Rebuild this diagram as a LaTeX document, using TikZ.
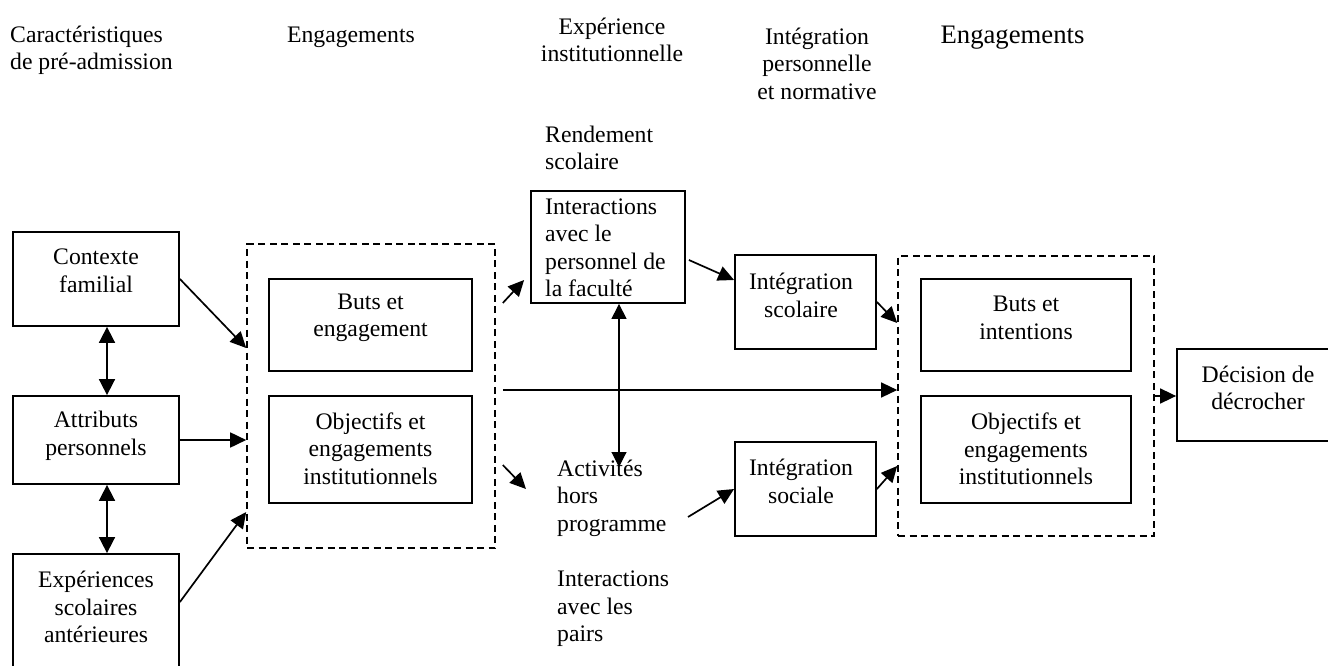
\documentclass[tikz,border=0pt]{standalone}
\usepackage{fontspec}
\setmainfont{Liberation Serif}
\usetikzlibrary{arrows.meta}
\begin{document}
\begin{tikzpicture}[x=1pt,y=-1pt,
  box/.style={draw, line width=1.8pt, inner sep=0pt},
  dashbox/.style={draw, line width=1.6pt, inner sep=0pt, dash pattern=on 7pt off 4.5pt},
  txt/.style={font=\fontsize{23.7}{27.5}\selectfont, align=center, inner sep=0pt},
  ltxt/.style={txt, align=left, anchor=west},
  arr/.style={-{Triangle[length=16pt,width=15pt]}, line width=1.7pt},
  dbl/.style={{Triangle[length=16pt,width=16pt]}-{Triangle[length=16pt,width=16pt]}, line width=1.7pt}
]
\useasboundingbox (0,0) rectangle (1328,666);
\clip (0,0) rectangle (1328,666);

% headers
\node[ltxt] (h1) at (10,50.5) {Caractéristiques\\de pré-admission};
\node[txt] (h2) at (351,37) {Engagements};
\node[txt] (h3) at (612,40) {Expérience\\institutionnelle};
\node[txt] (h4) at (817,63.5) {Intégration\\personnelle\\et normative};
\node[txt, font=\fontsize{26.7}{30}\selectfont] (h5) at (1012.5,38) {Engagements};

% left column boxes
\node[box, minimum width=166pt, minimum height=94pt] (cf) at (96,279) {};
\node[box, minimum width=166pt, minimum height=88pt] (ap) at (96,440) {};
\node[box, minimum width=166pt, minimum height=136pt] (ex) at (96,622) {};
\node[txt] (cft) at (96,271) {Contexte\\familial};
\node[txt] (apt) at (96,436) {Attributs\\personnels};
\node[txt] (ext) at (96,607) {Expériences\\scolaires\\antérieures};

% first dashed group
\node[dashbox, minimum width=248pt, minimum height=304pt] (d1) at (371,396) {};
\node[box, minimum width=203pt, minimum height=92pt] (be) at (370.5,325) {};
\node[box, minimum width=203pt, minimum height=107pt] (oa) at (370.5,449.5) {};
\node[txt] (bet) at (370.5,318) {Buts et\\engagement};
\node[txt] (oat) at (370.5,448.5) {Objectifs et\\engagements\\institutionnels};

% institutional experience
\node[ltxt] (rend) at (545,148) {Rendement\\scolaire};
\node[box, minimum width=154pt, minimum height=112pt] (fac) at (608,247) {};
\node[ltxt] (fact) at (545,248) {Interactions\\avec le\\personnel de\\la faculté};
\node[ltxt] (act) at (557,498) {Activités\\hors\\programme};
\node[ltxt] (pairs) at (557,609) {Interactions\\avec les\\pairs};
\coordinate (actTop) at (619,467);

% integration
\node[box, minimum width=141pt, minimum height=94pt] (isc) at (805.5,302) {};
\node[box, minimum width=141pt, minimum height=94pt] (iso) at (805.5,489) {};
\node[txt] (isct) at (801,295.5) {Intégration\\scolaire};
\node[txt] (isot) at (801,481.5) {Intégration\\sociale};

% second dashed group
\node[dashbox, minimum width=256pt, minimum height=280pt] (d2) at (1026,396) {};
\node[box, minimum width=210pt, minimum height=92pt] (bi) at (1026,325) {};
\node[box, minimum width=210pt, minimum height=107pt] (ob) at (1026,449.5) {};
\node[txt] (bit) at (1026,318) {Buts et\\intentions};
\node[txt] (obt) at (1026,449) {Objectifs et\\engagements\\institutionnels};

% decision
\node[box, minimum width=162pt, minimum height=92pt] (dec) at (1258,395) {};
\node[txt] (dect) at (1258,388) {Décision de\\décrocher};

% connectors
\draw[dbl] ([xshift=11pt]cf.south) -- ([xshift=11pt]ap.north);
\draw[dbl] ([xshift=11pt]ap.south) -- ([xshift=11pt]ex.north);
\draw[arr] (cf.east) -- ([yshift=48pt]d1.west);
\draw[arr] (ap.east) -- (ap.east -| d1.west);
\draw[arr] ([yshift=20pt]ex.east) -- ([yshift=-116pt]d1.west);

\draw[arr] ([shift={(7pt,93pt)}]d1.east) -- ([shift={(-6pt,-33pt)}]fac.west);
\draw[arr] ([shift={(7pt,-69pt)}]d1.east) -- ([shift={(-31pt,9pt)}]act.west);
\draw[arr, line width=1.3pt] ([shift={(7pt,6pt)}]d1.east) -- ([yshift=6pt]d2.west);
\draw[{Triangle[length=15pt,width=15pt]}-{Triangle[length=15pt,width=15pt]}, line width=1.1pt] ([xshift=11pt]fac.south) -- (actTop);

\draw[arr] ([shift={(3pt,-13pt)}]fac.east) -- ([yshift=22pt]isc.west);
\draw[arr] ([shift={(131pt,-19pt)}]act.west) -- (iso.west);
\draw[arr] (isc.east) -- ([yshift=73pt]d2.west);
\draw[arr] (iso.east) -- ([yshift=-70pt]d2.west);
\draw[arr] (d2.east) -- (d2.east -| dec.west);
\end{tikzpicture}
\end{document}
